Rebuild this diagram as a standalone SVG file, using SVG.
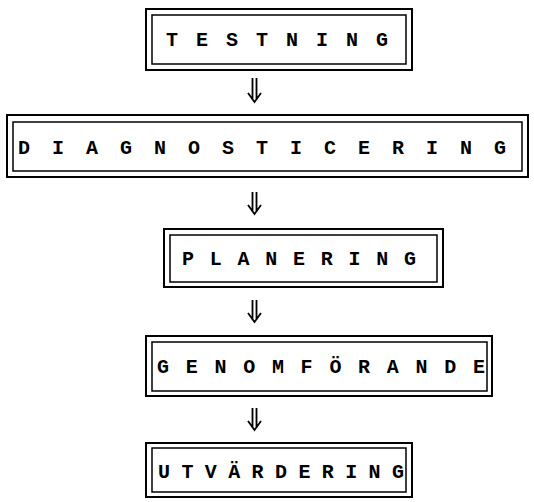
<svg xmlns="http://www.w3.org/2000/svg" width="534" height="502" viewBox="0 0 534 502">
<style>
.o{fill:none;stroke:#000;stroke-width:2}
.i{fill:none;stroke:#000;stroke-width:1.5}
.t{font-family:"Liberation Mono","Courier New",monospace;font-weight:bold;font-size:20px;fill:#000;text-anchor:middle}
.a{fill:none;stroke:#000;stroke-width:1.8}
</style>
<rect width="534" height="502" fill="#fff"/>
<g id="testning">
<rect class="o" x="146" y="9" width="266" height="61"/>
<rect class="i" x="152" y="15" width="254" height="49"/>
<text class="t" x="172 202 232 262 292 322 352 382" y="46">TESTNING</text>
</g>
<g id="diagnosticering">
<rect class="o" x="7" y="115" width="521" height="62"/>
<rect class="i" x="13" y="122" width="509" height="49"/>
<text class="t" x="24 58 92 126 160 194 228 262 296 330 364 398 432 466 500" y="154">DIAGNOSTICERING</text>
</g>
<g id="planering">
<rect class="o" x="164" y="229" width="279" height="58"/>
<rect class="i" x="170" y="235" width="267" height="47"/>
<text class="t" x="188 215.75 243.5 271.25 299 326.75 354.5 382.25 410" y="265">PLANERING</text>
</g>
<g id="genomforande">
<rect class="o" x="146" y="336" width="346" height="60"/>
<rect class="i" x="152" y="342" width="335" height="49"/>
<text class="t" x="163 191.7 220.4 249.2 277.9 306.6 335.4 364.1 392.8 421.6 450.3 479" y="373">GENOMFÖRANDE</text>
</g>
<g id="utvardering">
<rect class="o" x="146" y="443" width="266" height="54"/>
<rect class="i" x="152" y="448" width="254" height="44"/>
<text class="t" x="164 187.4 210.8 234.2 257.6 281 304.4 327.8 351.2 374.6 398" y="478">UTVÄRDERING</text>
</g>
<g id="connectors">
<path class="a" d="M252.5 78V100M256.5 78V100M248 93L254.5 102L261 93"/>
<path class="a" d="M252.5 192V212M256.5 192V212M248 205L254.5 214L261 205"/>
<path class="a" d="M252.5 300V320M256.5 300V320M248 313L254.5 322L261 313"/>
<path class="a" d="M252.5 408V428M256.5 408V428M248 421L254.5 430L261 421"/>
</g>
</svg>
